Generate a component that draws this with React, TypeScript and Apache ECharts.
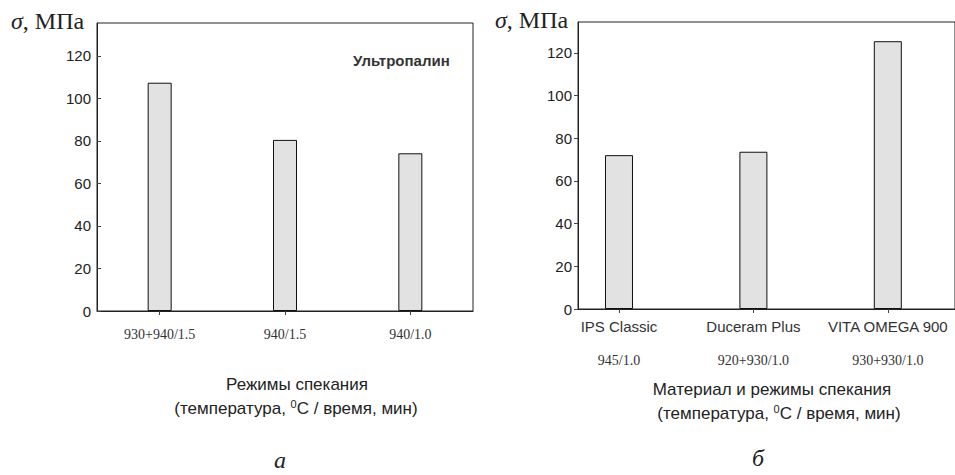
import React, { useEffect, useRef } from "react";
import * as echarts from "echarts";

// ---- data ----
const leftCategories = ["930+940/1.5", "940/1.5", "940/1.0"];
const leftValues = [107.4, 80.5, 74.2];

const rightMaterials = ["IPS Classic", "Duceram Plus", "VITA OMEGA 900"];
const rightModes = ["945/1.0", "920+930/1.0", "930+930/1.0"];
const rightValues = [72.1, 73.7, 125.5];
const rightPositions = [0, 1, 2];

const yTickValues = [0, 20, 40, 60, 80, 100, 120];
const leftYMax = 135.5;
const rightYMax = 134.5;

const yLabel = "{i|σ}, МПа";
const leftNote = "Ультропалин";
const leftTitle1 = "Режимы спекания";
const rightTitle1 = "Материал и режимы спекания";
const title2 = "(температура, {s|0}C / время, мин)";
const leftLetter = "а";
const rightLetter = "б";

const SANS = "Liberation Sans, Arial, sans-serif";
const SERIF = "Liberation Serif, Times New Roman, serif";
const INK = "#222";

export default function App() {
  const ref = useRef<HTMLDivElement>(null);

  useEffect(() => {
    if (!ref.current) return;
    const chart = echarts.init(ref.current, undefined, { renderer: "svg" });

    const barStyle = { color: "#e2e2e2", borderColor: "#111", borderWidth: 1 };
    const supRich = {
      s: { fontSize: 11, fontFamily: SANS, fill: INK, color: INK, verticalAlign: "top", lineHeight: 20 },
    };
    const sigmaRich = {
      i: { fontSize: 24, fontFamily: SERIF, fontStyle: "italic", fill: INK, color: INK },
    };

    const option: any = {
      animation: false,
      backgroundColor: "#fff",
      grid: [
        { left: 97, top: 23, width: 376, height: 288, show: true, borderColor: "#222", borderWidth: 1, backgroundColor: "transparent" },
        { left: 578, top: 22, width: 379, height: 287, show: true, borderColor: "#222", borderWidth: 1, backgroundColor: "transparent" },
      ],
      xAxis: [
        {
          type: "category",
          gridIndex: 0,
          data: leftCategories,
          boundaryGap: true,
          axisLine: { show: true, lineStyle: { color: "#222", width: 1 } },
          axisTick: { show: true, alignWithLabel: true, length: 4, lineStyle: { color: "#444" } },
          axisLabel: { fontFamily: SERIF, fontSize: 14, color: "#333", margin: 16 },
          splitLine: { show: false },
        },
        {
          type: "value",
          gridIndex: 1,
          min: -0.305,
          max: 2.5,
          axisLine: { show: true, onZero: false, lineStyle: { color: "#222", width: 1 } },
          axisTick: { show: true, length: 4, customValues: rightPositions, lineStyle: { color: "#444" } },
          axisLabel: {
            customValues: rightPositions,
            margin: 0,
            formatter: (v: number) => {
              const i = Math.round(v);
              return `{a|${rightMaterials[i]}}\n{b|${rightModes[i]}}`;
            },
            rich: {
              a: { fontFamily: SANS, fontSize: 15, color: "#333", lineHeight: 34 },
              b: { fontFamily: SERIF, fontSize: 14, color: "#333", lineHeight: 34 },
            },
          },
          splitLine: { show: false },
        },
      ],
      yAxis: [
        {
          type: "value",
          gridIndex: 0,
          min: 0,
          max: leftYMax,
          axisLine: { show: true, onZero: false, lineStyle: { color: "#222", width: 1 } },
          axisTick: { show: true, inside: true, length: 4, customValues: yTickValues, lineStyle: { color: "#444" } },
          axisLabel: { customValues: yTickValues, fontFamily: SANS, fontSize: 15, color: INK, margin: 6 },
          splitLine: { show: false },
        },
        {
          type: "value",
          gridIndex: 1,
          min: 0,
          max: rightYMax,
          axisLine: { show: true, onZero: false, lineStyle: { color: "#222", width: 1 } },
          axisTick: { show: true, length: 4, customValues: yTickValues, lineStyle: { color: "#444" } },
          axisLabel: { customValues: yTickValues, fontFamily: SANS, fontSize: 15, color: INK, margin: 6 },
          splitLine: { show: false },
        },
      ],
      series: [
        {
          type: "bar",
          xAxisIndex: 0,
          yAxisIndex: 0,
          data: leftValues,
          barWidth: 24,
          itemStyle: barStyle,
        },
        {
          type: "bar",
          xAxisIndex: 1,
          yAxisIndex: 1,
          data: rightPositions.map((p, i) => [p, rightValues[i]]),
          barWidth: 28,
          itemStyle: barStyle,
        },
      ],
      graphic: [
        {
          type: "text", left: 11, top: 9,
          style: { text: yLabel, fontFamily: SERIF, fontSize: 24, fill: INK, rich: sigmaRich },
        },
        {
          type: "text", left: 495, top: 8,
          style: { text: yLabel, fontFamily: SERIF, fontSize: 24, fill: INK, rich: sigmaRich },
        },
        {
          type: "text", x: 353, y: 60,
          style: { text: leftNote, fontFamily: SANS, fontSize: 15, fontWeight: "bold", fill: "#333", align: "left", verticalAlign: "middle" },
        },
        {
          type: "text", x: 297, y: 384,
          style: { text: leftTitle1, fontFamily: SANS, fontSize: 17, fill: INK, align: "center", verticalAlign: "middle" },
        },
        {
          type: "text", x: 296, y: 408,
          style: { text: title2, fontFamily: SANS, fontSize: 17, lineHeight: 20, fill: INK, align: "center", verticalAlign: "middle", rich: supRich },
        },
        {
          type: "text", x: 772, y: 389,
          style: { text: rightTitle1, fontFamily: SANS, fontSize: 17, fill: INK, align: "center", verticalAlign: "middle" },
        },
        {
          type: "text", x: 779, y: 413,
          style: { text: title2, fontFamily: SANS, fontSize: 17, lineHeight: 20, fill: INK, align: "center", verticalAlign: "middle", rich: supRich },
        },
        {
          type: "text", x: 280, y: 460,
          style: { text: leftLetter, fontFamily: SERIF, fontSize: 24, fontStyle: "italic", fill: INK, align: "center", verticalAlign: "middle" },
        },
        {
          type: "text", x: 758, y: 458,
          style: { text: rightLetter, fontFamily: SERIF, fontSize: 24, fontStyle: "italic", fill: INK, align: "center", verticalAlign: "middle" },
        },
      ],
    };

    chart.setOption(option);
    return () => chart.dispose();
  }, []);

  return (
    <div
      ref={ref}
      style={{ position: "fixed", left: 0, top: 0, width: 955, height: 475, background: "#fff" }}
    />
  );
}
